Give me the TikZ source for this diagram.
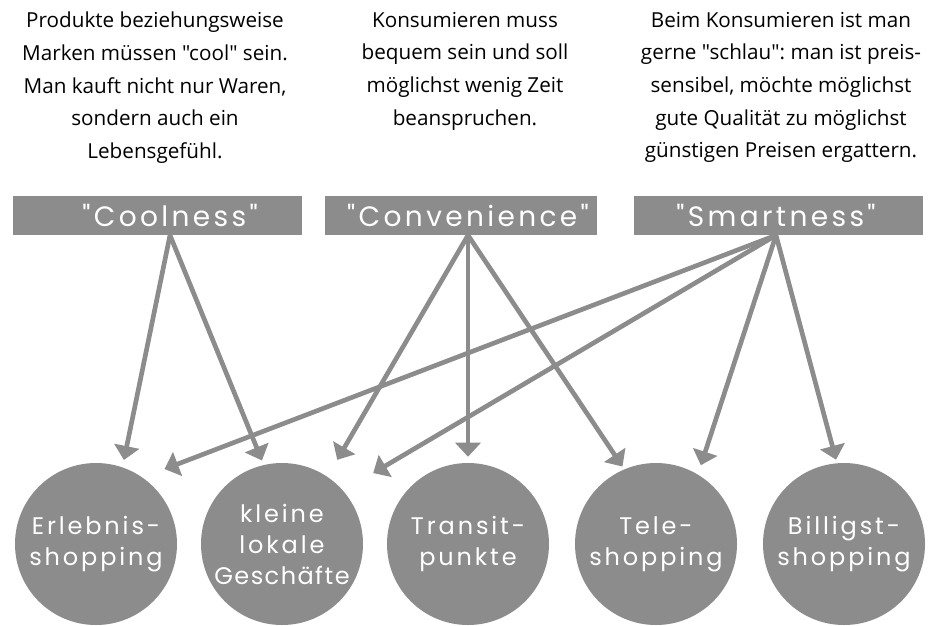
\documentclass[tikz,border=0pt]{standalone}
\usepackage{fontspec}
\setmainfont{Open Sans}[Ligatures=TeXOff]
\newfontfamily\geo[LetterSpace=12]{Poppins}
\usetikzlibrary{arrows.meta}
\definecolor{shade}{HTML}{8C8C8C}
\tikzset{
	note/.style={anchor=north, align=center, inner sep=0pt, font=\fontsize{15.5}{24.4}\selectfont\frenchspacing},
	bar/.style={fill=shade, minimum width=216.75pt, minimum height=29.25pt, inner sep=0pt},
	barlabel/.style={text=white, inner sep=0pt, font=\geo\fontsize{21}{21}\selectfont},
	shop/.style={circle, fill=shade, minimum size=121.5pt, inner sep=0pt, text=white, align=center, font=\geo\fontsize{18}{23.25}\selectfont},
	link/.style={draw=shade, line width=3.5pt, -{Triangle[length=10.5pt,width=18.75pt]}}
}
\newcommand{\shopnode}[3]{\node[shop] (#1) at (#2,544) {#3};}

\begin{document}
\begin{tikzpicture}[x=0.75pt, y=-0.75pt]
	\useasboundingbox (0,0) rectangle (934,625);

	\node[note] (coolnote) at (155,12) {Produkte beziehungsweise\\Marken müssen "cool" sein.\\Man kauft nicht nur Waren,\\sondern auch ein\\Lebensgefühl.};
	\node[note] (convnote) at (465,12) {Konsumieren muss\\bequem sein und soll\\möglichst wenig Zeit\\beanspruchen.};
	\node[note] (smartnote) at (781,12) {Beim Konsumieren ist man\\gerne "schlau": man ist preis-\\sensibel, möchte möglichst\\gute Qualität zu möglichst\\günstigen Preisen ergattern.};

	\node[bar] (coolbar) at (157.5,215.5) {};
	\node[bar, minimum width=204pt] (convbar) at (461,215.5) {};
	\node[bar] (smartbar) at (778,215.5) {};
	\node[barlabel] (cool) at (170,215.5) {"Coolness"};
	\node[barlabel] (conv) at (468,215.5) {"Convenience"};
	\node[barlabel] (smart) at (776,215.5) {"Smartness"};
	\coordinate (coolfoot) at (cool |- coolbar.south);
	\coordinate (convfoot) at (conv |- convbar.south);
	\coordinate (smartfoot) at (smart |- smartbar.south);

	\shopnode{erl}{96}{Erlebnis-\\shopping}
	\shopnode{klein}{282}{kleine\\lokale\\{\addfontfeature{LetterSpace=6}Geschäfte}}
	\shopnode{trans}{468}{Transit-\\punkte}
	\shopnode{tele}{656}{Tele-\\shopping}
	\shopnode{bill}{844}{Billigst-\\shopping}

	\draw[link, shorten >=5.5pt] (coolfoot) -- (erl.71.6);
	\draw[link, shorten >=3.5pt] (coolfoot) -- (klein.103.7);
	\draw[link, shorten >=14.6pt] (convfoot) -- (klein.56.1);
	\draw[link, shorten >=4.5pt] (convfoot) -- (trans.north);
	\draw[link, shorten >=2.4pt] (convfoot) -- (tele.113.4);
	\draw[link, shorten >=17.6pt] (smartfoot) -- (erl.55.4);
	\draw[link, shorten >=26pt] (smartfoot) -- (klein.41.1);
	\draw[link, shorten >=7.2pt] (smartfoot) -- (tele.59.6);
	\draw[link, shorten >=2.6pt] (smartfoot) -- (bill.95.7);
\end{tikzpicture}
\end{document}
